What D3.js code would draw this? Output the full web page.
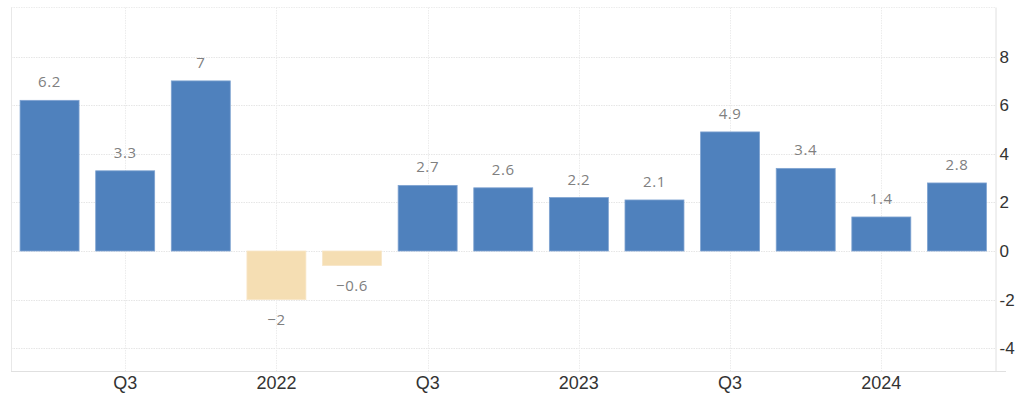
<!DOCTYPE html>
<html>
<head>
<meta charset="utf-8">
<script src="https://cdn.jsdelivr.net/npm/d3@7"></script>
<style>
  body { margin: 0; background: #fff; }
  svg { display: block; }
</style>
</head>
<body>
<svg id="chart" width="1024" height="397"></svg>
<script>
// quarters shown, Q2 2021 .. Q2 2024
var quarters = ['2021Q2','2021Q3','2021Q4','2022Q1','2022Q2','2022Q3','2022Q4',
                '2023Q1','2023Q2','2023Q3','2023Q4','2024Q1','2024Q2'];
var values = [6.2, 3.3, 7, -2, -0.6, 2.7, 2.6, 2.2, 2.1, 4.9, 3.4, 1.4, 2.8];
var xTickLabels = {'2021Q3':'Q3','2022Q1':'2022','2022Q3':'Q3','2023Q1':'2023','2023Q3':'Q3','2024Q1':'2024'};
var yTicks = [-4, -2, 0, 2, 4, 6, 8];

var width = 1024, height = 397;
var plot = {left: 11, right: 995.5, top: 7.5, bottom: 371};
var svg = d3.select('#chart');

var x = d3.scaleBand().domain(quarters)
          .range([plot.left, plot.right])
          .paddingInner(0.22).paddingOuter(0.12);
var y = d3.scaleLinear().domain([-5, 10]).range([372.5, 8]);

// grid
var grid = svg.append('g');
grid.selectAll('.hgrid').data(yTicks).enter().append('line')
    .attr('x1', plot.left).attr('x2', plot.right)
    .attr('y1', function(d){ return Math.round(y(d)) + 0.5; })
    .attr('y2', function(d){ return Math.round(y(d)) + 0.5; })
    .style('stroke', '#e6e6e6').style('stroke-dasharray', '1.5,1');
grid.append('line').attr('x1', plot.left).attr('x2', plot.right)
    .attr('y1', plot.top).attr('y2', plot.top)
    .style('stroke', '#ececec').style('stroke-dasharray', '1.5,1');
grid.selectAll('.vgrid').data(Object.keys(xTickLabels)).enter().append('line')
    .attr('x1', function(d){ return Math.round(x(d) + x.bandwidth()/2) + 0.5; })
    .attr('x2', function(d){ return Math.round(x(d) + x.bandwidth()/2) + 0.5; })
    .attr('y1', plot.top).attr('y2', plot.bottom)
    .style('stroke', '#ececec').style('stroke-dasharray', '1.5,1');

// frame
svg.append('line').attr('x1', plot.left + 0.5).attr('x2', plot.left + 0.5)
   .attr('y1', plot.top).attr('y2', plot.bottom)
   .style('stroke', '#e8e8e8');
svg.append('line').attr('x1', plot.left).attr('x2', width - 18)
   .attr('y1', plot.bottom + 0.5).attr('y2', plot.bottom + 0.5)
   .style('stroke', '#e0e0e0');
svg.append('line').attr('x1', plot.right + 0.5).attr('x2', plot.right + 0.5)
   .attr('y1', plot.top).attr('y2', plot.bottom)
   .style('stroke', '#e0e0e0');

// bars
svg.selectAll('.bar').data(values).enter().append('rect')
   .attr('class', 'bar')
   .attr('x', function(d, i){ return x(quarters[i]); })
   .attr('width', x.bandwidth())
   .attr('y', function(d){ return y(Math.max(d, 0)); })
   .attr('height', function(d){ return Math.abs(y(d) - y(0)); })
   .style('fill', function(d){ return d < 0 ? '#f5deb3' : '#4f81bd'; })
   .style('stroke', function(d){ return d < 0 ? '#f8e7c8' : '#7fa3d1'; })
   .style('stroke-width', 0.8);

// value labels
svg.selectAll('.val').data(values).enter().append('text')
   .attr('x', function(d, i){ return x(quarters[i]) + x.bandwidth()/2; })
   .attr('y', function(d){ return d < 0 ? y(d) + 25 : y(d) - 13; })
   .attr('text-anchor', 'middle')
   .style('font-family', '"Open Sans", sans-serif').style('font-size', '15px')
   .style('letter-spacing', '0.6px')
   .style('fill', '#808080')
   .text(function(d){ return d < 0 ? '\u2212' + Math.abs(d) : d; });

// x axis labels
svg.selectAll('.xlab').data(Object.keys(xTickLabels)).enter().append('text')
   .attr('x', function(d){ return x(d) + x.bandwidth()/2; })
   .attr('y', 389)
   .attr('text-anchor', 'middle')
   .style('font-family', '"Liberation Sans", Arial, sans-serif').style('font-size', '18px')
   .style('fill', '#333')
   .text(function(d){ return xTickLabels[d]; });

// y axis labels (right)
svg.selectAll('.ylab').data(yTicks).enter().append('text')
   .attr('x', plot.right + 4)
   .attr('y', function(d){ return y(d) + 6; })
   .style('font-family', '"Liberation Sans", Arial, sans-serif').style('font-size', '17px')
   .style('fill', '#333')
   .text(function(d){ return d; });
</script>
</body>
</html>
